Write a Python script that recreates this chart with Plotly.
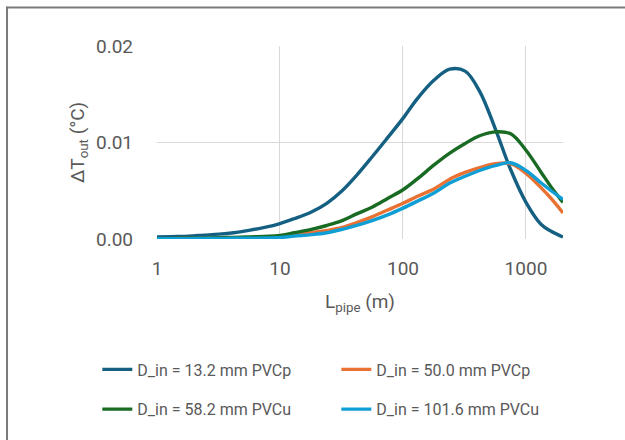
import plotly.graph_objects as go

L_pipe = [1, 1.3, 1.8, 2.4, 3.2, 4.2, 5.6, 7.5, 10, 13, 18, 24, 32, 42, 56, 75,
          100, 130, 180, 240, 320, 420, 560, 750, 1000, 1330, 1600, 2000]

dT_13_2_PVCp = [0.0002, 0.00025, 0.0003, 0.0004, 0.0005, 0.00065, 0.0009, 0.0012,
                0.0016, 0.0021, 0.0028, 0.0037, 0.0050, 0.0066, 0.0085, 0.0105,
                0.0125, 0.0145, 0.0165, 0.0176, 0.0174, 0.0153, 0.0115, 0.0072,
                0.0038, 0.0015, 0.0008, 0.0002]
dT_50_0_PVCp = [0.00003, 0.00004, 0.00005, 0.00007, 0.00009, 0.00011, 0.00014, 0.00018,
                0.00025, 0.00045, 0.00065, 0.00088, 0.0012, 0.0017, 0.0023, 0.0030,
                0.0037, 0.0044, 0.0052, 0.0062, 0.0069, 0.0074, 0.0078, 0.0078,
                0.0068, 0.0053, 0.0042, 0.0027]
dT_58_2_PVCu = [0.00005, 0.00006, 0.00008, 0.0001, 0.00013, 0.00017, 0.00021, 0.00027,
                0.00036, 0.00065, 0.0010, 0.0014, 0.0019, 0.0026, 0.0033, 0.0042,
                0.0051, 0.0062, 0.0077, 0.0089, 0.0099, 0.0107, 0.0111, 0.0109,
                0.0092, 0.0069, 0.0054, 0.0038]
dT_101_6_PVCu = [0.00002, 0.00003, 0.00004, 0.00005, 0.00006, 0.00007, 0.00008, 0.0001,
                 0.00015, 0.0003, 0.00045, 0.00065, 0.0010, 0.0014, 0.0019, 0.0025,
                 0.0032, 0.0039, 0.0048, 0.0058, 0.0065, 0.0071, 0.0076, 0.0079,
                 0.0071, 0.0058, 0.0050, 0.0041]

series_names = ["D_in = 13.2 mm PVCp", "D_in = 50.0 mm PVCp",
                "D_in = 58.2 mm PVCu", "D_in = 101.6 mm PVCu"]
x_tick_vals = [1, 10, 100, 1000]
x_tick_text = ["1", "10", "100", "1000"]
y_tick_vals = [0.0, 0.01, 0.02]

colors = ["#156082", "#E97132", "#196B24", "#0F9ED5"]
series = [dT_13_2_PVCp, dT_50_0_PVCp, dT_58_2_PVCu, dT_101_6_PVCu]
legends = ["legend", "legend", "legend2", "legend2"]

FONT = "Roboto"
GRAY = "#595959"

fig = go.Figure()
for name, ys, c, lg in zip(series_names, series, colors, legends):
    fig.add_trace(go.Scatter(x=L_pipe, y=ys, name=name, mode="lines",
                             line=dict(color=c, width=3.4, shape="spline", smoothing=1.0),
                             legend=lg))

leg_common = dict(orientation="h", xanchor="left", yanchor="middle",
                  font=dict(family=FONT, size=16, color=GRAY),
                  bgcolor="rgba(0,0,0,0)", entrywidth=194, itemwidth=30)

fig.update_layout(
    width=625, height=440,
    margin=dict(l=157, r=62, t=46, b=201),
    paper_bgcolor="white", plot_bgcolor="white",
    font=dict(family=FONT, color=GRAY),
    showlegend=True,
    legend=dict(x=-0.147, y=-0.676, **leg_common),
    legend2=dict(x=-0.147, y=-0.882, **leg_common),
    xaxis=dict(type="log", range=[0, 3.301], tickvals=x_tick_vals, ticktext=x_tick_text,
               showgrid=True, gridcolor="#d9d9d9", gridwidth=1,
               showline=False, zeroline=False, ticks="", ticklabelstandoff=16,
               tickfont=dict(family=FONT, size=19, color=GRAY),
               title=dict(text="L<sub>pipe</sub> (m)", font=dict(family=FONT, size=19, color=GRAY),
                          standoff=15)),
    yaxis=dict(range=[0, 0.02], tickvals=y_tick_vals, tickformat=".2f",
               showgrid=True, gridcolor="#d9d9d9", gridwidth=1,
               showline=False, zeroline=False, ticks="", ticklabelstandoff=23,
               tickfont=dict(family=FONT, size=19, color=GRAY),
               title=dict(text="ΔT<sub>out</sub> (°C)", font=dict(family=FONT, size=19, color=GRAY),
                          standoff=6)),
    shapes=[
        dict(type="line", xref="paper", yref="paper", x0=-0.372, x1=1.2, y0=1.199, y1=1.199,
             line=dict(color="#7a7a7a", width=2), layer="above"),
        dict(type="line", xref="paper", yref="paper", x0=-0.3694, x1=-0.3694, y0=1.2035, y1=-1.2,
             line=dict(color="#7a7a7a", width=2), layer="above"),
    ],
)

fig.write_html("out.html", config={"displayModeBar": False},
               post_script="document.body.style.margin='0px';")
